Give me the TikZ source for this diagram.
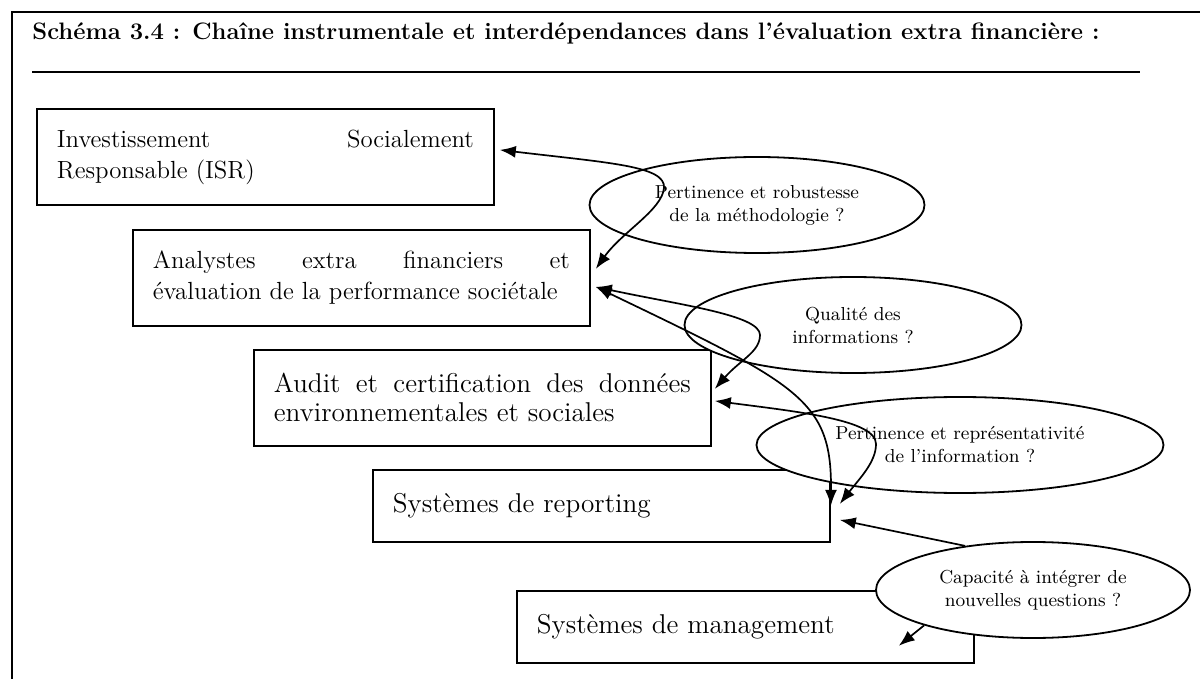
\documentclass[tikz,border=0pt]{standalone}
\usepackage{fontspec}
\usepackage{tikz}
\usetikzlibrary{shapes.geometric,arrows.meta}
\hyphenpenalty=10000
\exhyphenpenalty=10000

\begin{document}
\begin{tikzpicture}[x=0.5pt,y=-0.5pt]
  \tikzset{BoxStyle/.style = {
    shape          = rectangle,
    draw           = black,
    fill           = white,
    line width     = 0.9pt,
    text           = black,
    text width     = 208.5pt,
    align          = justify,
    inner xsep     = 10pt,
    inner ysep     = 0pt,
    minimum height = 48pt,
    anchor         = north west,
    font           = \fontsize{12.4}{15.5}\selectfont
    }
  }
  \tikzset{BubbleStyle/.style = {
    shape          = ellipse,
    draw           = black,
    fill           = white,
    line width     = 0.9pt,
    text           = black,
    align          = center,
    inner sep      = 0pt,
    minimum height = 48pt,
    font           = \fontsize{9.4}{11.5}\selectfont
    }
  }
  \tikzset{LinkStyle/.style = {
    draw           = black,
    line width     = 0.85pt,
    >              = {Latex[length=8pt,width=6pt]}
    }
  }

  \useasboundingbox (0,0) rectangle (1200,679);

  % frame and title
  \draw[line width=1pt] (12,679) |- (1200,12);
  \node[anchor=base west, inner sep=0pt, font=\fontsize{11.9}{14}\selectfont\bfseries](title) at (32,40)
    {Schéma 3.4 : Chaîne instrumentale et interdépendances dans l’évaluation extra financière :};
  \draw[line width=1pt] (32,72) -- (1140,72);

  % the chain
  \node[BoxStyle](B1) at (36,108) {Investissement Socialement\linebreak Responsable (ISR)};
  \node[BoxStyle](B2) at (132,229) {Analystes extra financiers et\linebreak évaluation de la performance sociétale};
  \node[BoxStyle, font=\fontsize{13.6}{14.5}\selectfont](B3) at (253,349) {Audit et certification des données\linebreak environnementales et sociales};
  \node[BoxStyle, minimum height=36pt, font=\fontsize{13.6}{14.5}\selectfont](B4) at (372,469) {Systèmes de reporting};
  \node[BoxStyle, minimum height=36pt, font=\fontsize{13.6}{14.5}\selectfont](B5) at (516,590) {Systèmes de management};

  % the questions
  \node[BubbleStyle, minimum width=167.5pt](E1) at (757,205) {Pertinence et robustesse\\de la méthodologie ?};
  \node[BubbleStyle, minimum width=168.5pt](E2) at (853,325) {Qualité des\\informations ?};
  \node[BubbleStyle, minimum width=203.5pt](E3) at (960,445) {Pertinence et représentativité\\de l’information ?};
  \node[BubbleStyle, minimum width=157pt](E4) at (1033,590) {Capacité à intégrer de\\nouvelles questions ?};

  \coordinate (T1) at (664,188);
  \coordinate (T2) at (760,335);
  \coordinate (T3) at (876,444);

  \draw[LinkStyle, <->] ([xshift=2.5pt,yshift=3.5pt]B1.east) .. controls (610,163) and (666,166) .. (T1)
    .. controls (662,210) and (622,232) .. ([xshift=2.5pt,yshift=4.5pt]B2.east);
  \draw[LinkStyle, <->] ([xshift=2.5pt,yshift=-4.5pt]B2.east) .. controls (680,305) and (760,315) .. (T2)
    .. controls (760,352) and (740,360) .. ([xshift=1.5pt,yshift=4.5pt]B3.east);
  \draw[LinkStyle, <->] ([xshift=2.5pt,yshift=-4.5pt]B2.east) .. controls (800,385) and (832,400) .. (B4.east);
  \draw[LinkStyle, <->] ([xshift=1.5pt,yshift=-1.5pt]B3.east) .. controls (800,412) and (876,420) .. (T3)
    .. controls (876,462) and (860,478) .. ([xshift=4.5pt,yshift=1pt]B4.east);
  \draw[LinkStyle, ->] (E4.147) -- ([xshift=4.5pt,yshift=-7pt]B4.east);
  \draw[LinkStyle, ->] (E4.198) -- ([shift={(-38pt,9pt)}]B5.south east);

\end{tikzpicture}
\end{document}
